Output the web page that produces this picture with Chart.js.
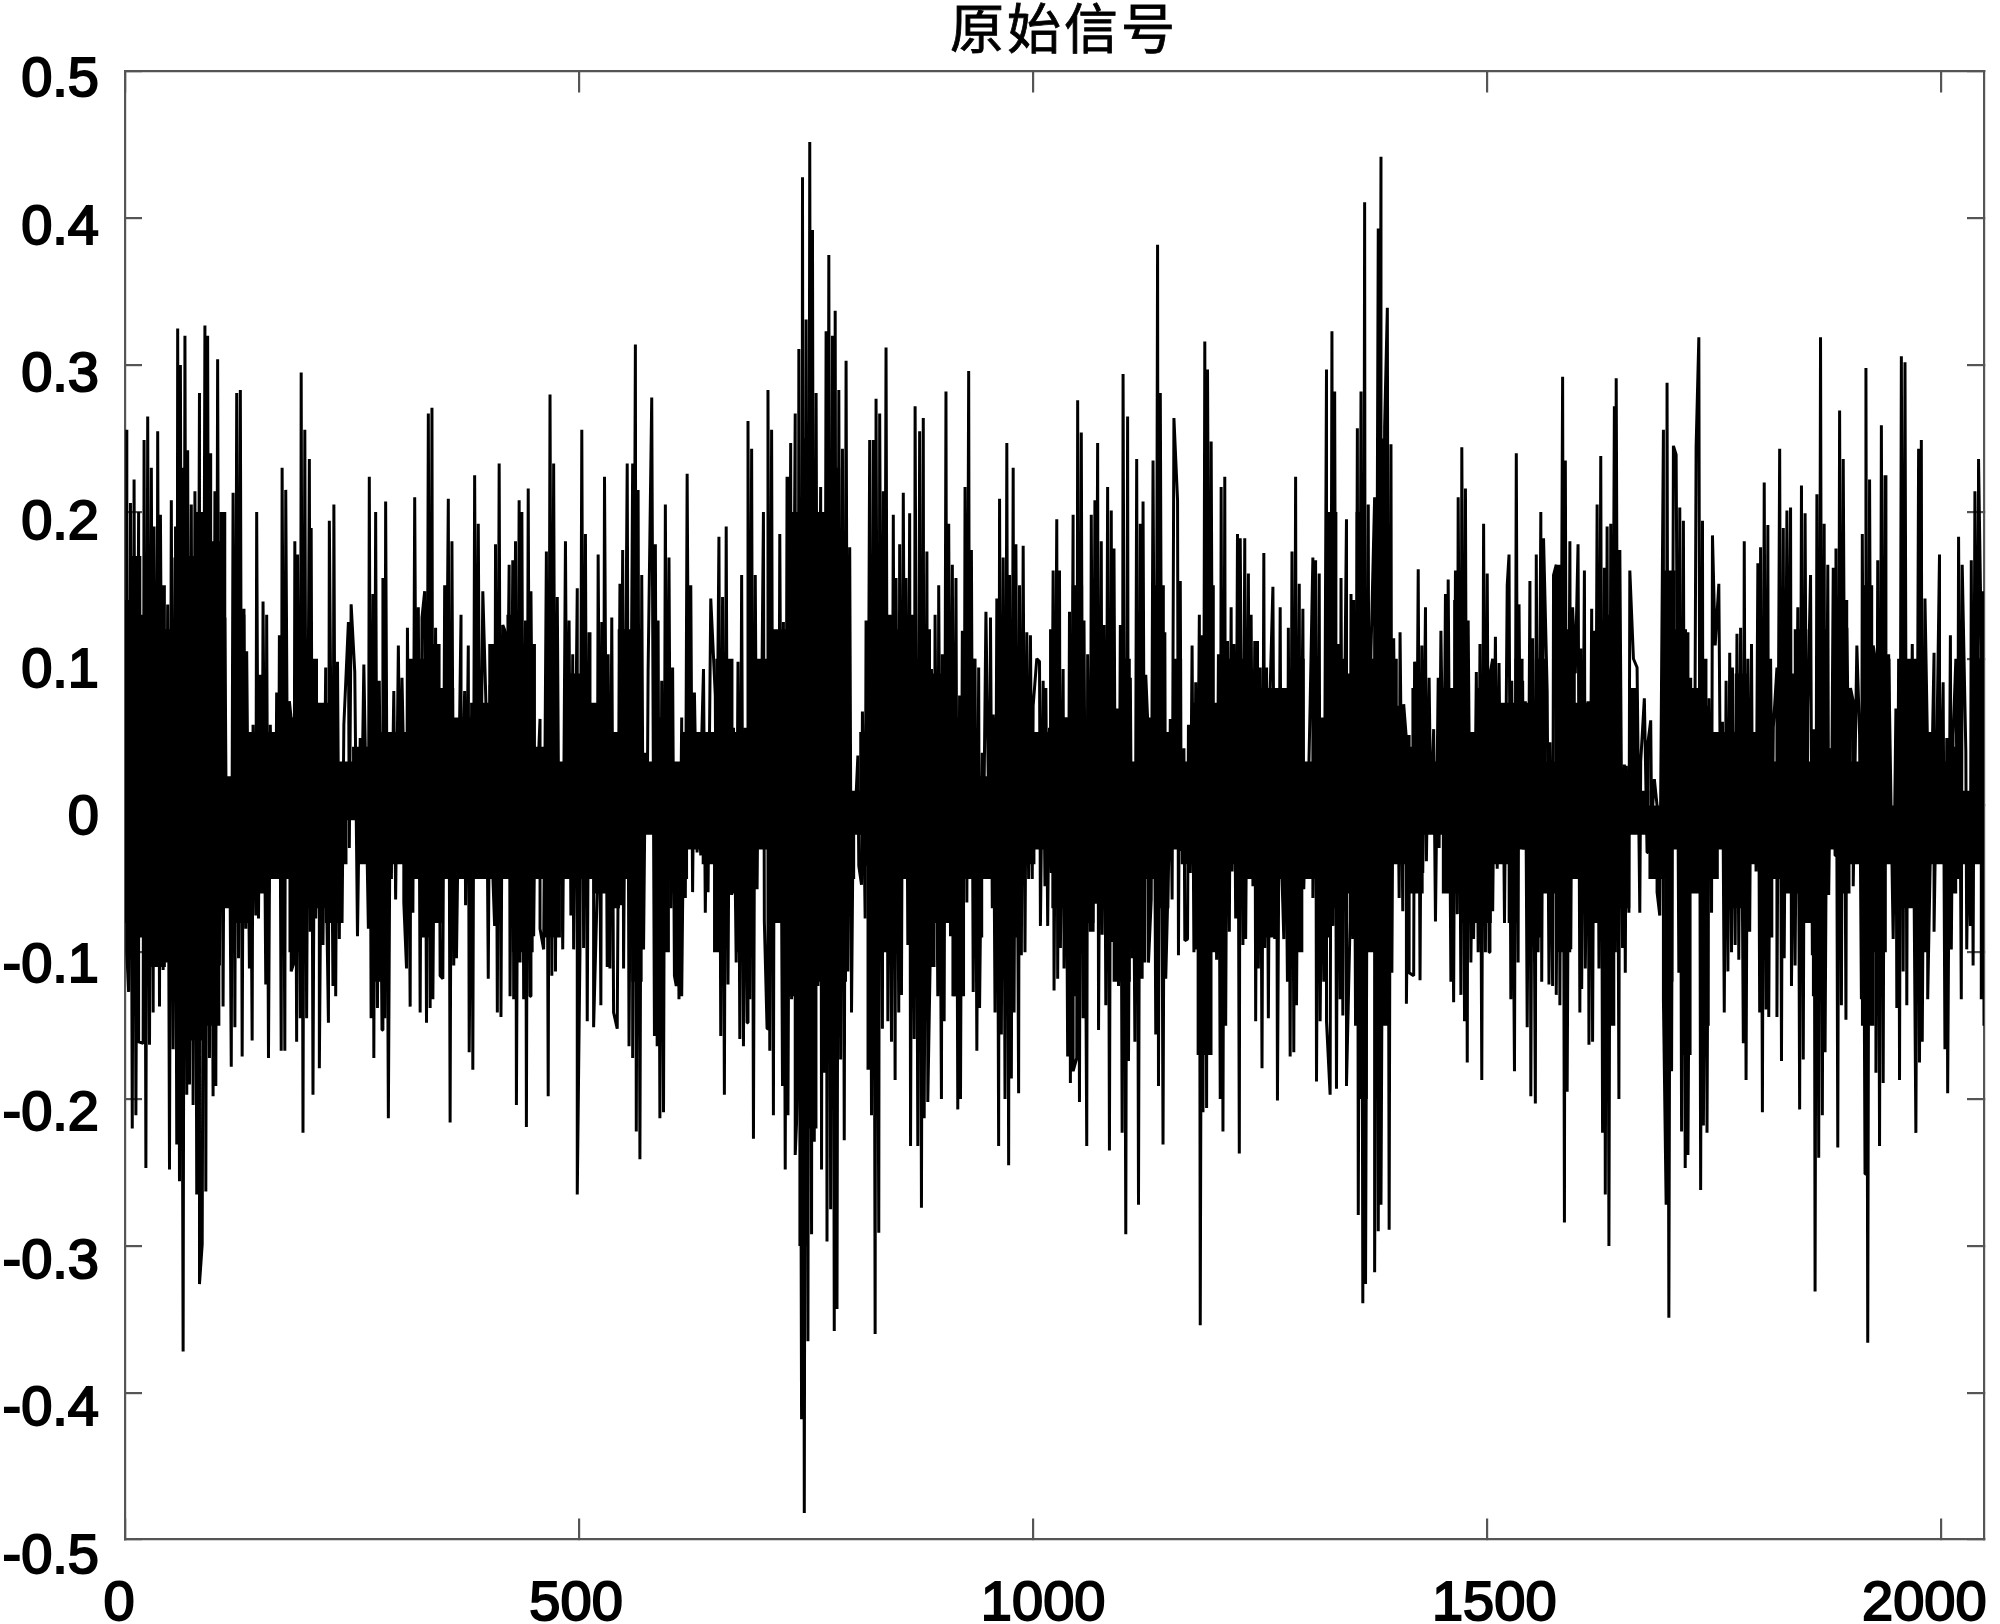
<!DOCTYPE html>
<html>
<head>
<meta charset="utf-8">
<title>原始信号</title>
<script src="https://cdn.jsdelivr.net/npm/chart.js@4"></script>
<style>
  html, body { margin: 0; background: #fff; }
  canvas { display: block; }
</style>
</head>
<body>
<canvas id="myChart" width="2000" height="1624"></canvas>
<script>
const titleText = "原始信号";
const xTickValues = [0, 500, 1000, 1500, 2000];
const yTickValues = [0.5, 0.4, 0.3, 0.2, 0.1, 0, -0.1, -0.2, -0.3, -0.4, -0.5];

// peaks: [sample index, value]
const upperPeaks = [
[2,.256],[6,.206],[10,.222],[15,.2],[21,.249],[25,.265],[29,.23],[32,.19],[36,.255],[39,.198],[43,.12],[47,.137],[51,.208],[55,.169],[58,.325],[61,.3],[66,.32],[69,.242],[73,.205],[77,.214],[82,.281],[88,.327],[91,.32],[94,.21],[99,.214],[102,.304],[106,.171],[110,.128],[115,.014],[119,.213],[123,.281],[127,.283],[131,.134],[134,.105],[138,.045],[141,.055],[145,.2],[149,.089],[152,.139],[156,.13],[160,.055],[163,.014],[167,.077],[170,.116],[173,.23],[177,.215],[181,.071],[183,.059],[187,.18],[190,.171],[194,.295],[198,.256],[203,.236],[205,.189],[209,.093],[214,.059],[217,.068],[221,.094],[225,.194],[230,.205],[234,.098],[237,.02],[241,.055],[246,.125],[249,.137],[253,.091],[259,.046],[263,.096],[269,.224],[273,.144],[276,.2],[280,.085],[284,.155],[287,.207],[292,.021],[296,.078],[301,.109],[305,.087],[307,.025],[311,.121],[315,.094],[319,.21],[323,.135],[327,.128],[330,.146],[334,.267],[338,.271],[342,.121],[346,.046],[352,.15],[356,.209],[360,.18],[365,.059],[370,.13],[374,.078],[378,.109],[382,.062],[385,.225],[389,.192],[394,.146],[398,.057],[402,.082],[408,.178],[412,.233],[416,.123],[419,.118],[423,.164],[427,.167],[430,.18],[434,.208],[437,.2],[441,.126],[444,.216],[447,.146],[452,.037],[457,.059],[464,.173],[468,.28],[472,.233],[476,.142],[480,.023],[485,.18],[489,.126],[493,.103],[498,.148],[503,.256],[507,.185],[511,.118],[516,.037],[521,.171],[525,.125],[528,.224],[532,.103],[536,.128],[545,.151],[548,.174],[553,.233],[559,.233],[562,.314],[565,.215],[569,.157],[573,.036],[576,.091],[580,.278],[584,.178],[587,.126],[591,.085],[595,.205],[599,.169],[603,.094],[608,.014],[613,.06],[616,.05],[619,.226],[623,.15],[627,.077],[631,.012],
[635,.045],[637,.093],[641,.045],[645,.141],[650,.075],[654,.183],[658,.142],[662,.19],[666,.084],[670,.053],[675,.098],[679,.157],[683,.053],[686,.262],[690,.243],[694,.157],[698,.087],[703,.2],[708,.283],[712,.256],[715,.089],[718,.053],[721,.185],[725,.125],[729,.224],[733,.247],[738,.267],[742,.311],[746,.428],[750,.331],[754,.452],[757,.392],[761,.281],[766,.217],[768,.167],[772,.323],[775,.375],[779,.32],[782,.337],[786,.283],[790,.243],[794,.303],[798,.176],[802,.007],[807,.034],[812,.064],[816,.126],[820,.249],[824,.249],[827,.277],[831,.267],[835,.214],[838,.312],[842,.121],[846,.198],[849,.155],[853,.178],[857,.213],[860,.155],[864,.199],[867,.13],[870,.272],[875,.255],[879,.264],[883,.173],[888,.093],[892,.13],[896,.15],[900,.103],[904,.282],[907,.192],[911,.164],[915,.155],[919,.075],[922,.119],[925,.217],[929,.296],[932,.174],[936,.1],[940,.094],[944,.036],[948,.132],[953,.128],[956,.062],[960,.141],[963,.209],[967,.169],[971,.247],[974,.157],[978,.23],[981,.178],[985,.15],[989,.177],[993,.118],[997,.116],[1000,.068],[1004,.1],[1007,.098],[1011,.085],[1014,.08],[1018,.053],[1022,.16],[1026,.195],[1029,.16],[1033,.093],[1036,.06],[1040,.132],[1044,.198],[1049,.276],[1053,.254],[1056,.126],[1060,.103],[1064,.198],[1068,.208],[1071,.247],[1075,.18],[1078,.123],[1082,.217],[1086,.201],[1089,.175],[1093,.066],[1096,.123],[1099,.294],[1104,.265],[1107,.087],[1110,.028],[1114,.236],[1118,.192],[1121,.207],[1124,.089],[1127,.045],[1132,.235],[1137,.382],[1140,.281],[1145,.118],[1151,.059],[1155,.264],[1159,.208],[1162,.153],[1166,.039],[1171,.055],[1175,.109],[1179,.084],[1183,.13],[1186,.116],[1189,.316],[1192,.297],[1196,.248],[1200,.062],[1204,.103],[1207,.217],[1211,.224],[1214,.112],[1218,.135],[1221,.11],[1225,.185],[1228,.182],[1233,.182],[1237,.158],[1240,.13],[1244,.112],[1247,.112],[1250,.094],[1254,.172],[1257,.094],[1261,.08],[1264,.149],[1268,.068],[1272,.135],[1277,.08],[1281,.121],[1285,.173],[1289,.224],[1293,.151],[1297,.134],[1301,.025],[1305,.069],[1308,.169],[1311,.167],[1315,.158],[1319,.048],[1323,.297],[1329,.323],[1332,.282],[1336,.11],[1339,.155],[1343,.068],
[1345,.195],[1350,.144],[1353,.14],[1357,.257],[1361,.282],[1365,.411],[1369,.205],[1372,.105],[1376,.21],[1380,.393],[1383,.442],[1387,.258],[1390,.339],[1394,.246],[1397,.114],[1401,.068],[1404,.118],[1408,.069],[1411,.045],[1414,.048],[1420,.098],[1424,.161],[1428,.109],[1432,.135],[1436,.087],[1441,.052],[1446,.087],[1449,.119],[1454,.144],[1457,.154],[1461,.032],[1465,.16],[1468,.21],[1472,.244],[1476,.216],[1479,.126],[1484,0],[1488,.091],[1492,.11],[1496,.192],[1500,.158],[1503,.089],[1506,.1],[1509,.115],[1513,.097],[1517,.066],[1522,.15],[1524,.171],[1527,.085],[1532,.24],[1535,.137],[1539,.085],[1542,.071],[1547,.153],[1550,.114],[1554,.171],[1559,.2],[1562,.182],[1566,.078],[1569,.043],[1573,.157],[1576,.164],[1579,.164],[1583,.292],[1586,.235],[1591,.18],[1594,.135],[1597,.09],[1600,.178],[1603,.107],[1607,.16],[1611,.071],[1615,.134],[1618,.119],[1621,.205],[1625,.238],[1629,.162],[1632,.19],[1636,.192],[1640,.272],[1642,.291],[1646,.174],[1651,.028],[1653,.027],[1657,.16],[1661,.1],[1665,.094],[1669,.03],[1673,.073],[1677,.043],[1680,.058],[1684,.018],[1687,0],[1694,.256],[1698,.288],[1702,.139],[1705,.245],[1708,.239],[1712,.203],[1716,.194],[1720,.118],[1724,.087],[1730,.244],[1733,.319],[1737,.194],[1741,.068],[1744,.073],[1748,.184],[1751,.109],[1755,.151],[1759,.057],[1763,.085],[1767,.104],[1770,.094],[1775,.117],[1779,.121],[1783,.18],[1787,.1],[1791,.11],[1795,.022],[1798,.165],[1801,.176],[1805,.22],[1809,.191],[1812,.1],[1815,.053],[1819,.094],[1822,.243],[1826,.189],[1830,.201],[1834,.203],[1838,.059],[1842,.135],[1846,.218],[1850,.199],[1853,.066],[1856,.157],[1860,.052],[1863,.212],[1867,.319],[1871,.192],[1875,.164],[1878,.039],[1881,.162],[1884,.175],[1888,.269],[1892,.236],[1896,.121],[1900,.08],[1903,.071],[1907,.109],[1910,.048],[1913,.185],[1917,.298],[1921,.222],[1925,.109],[1928,.096],[1930,.167],[1934,.259],[1938,.225],[1942,.103],[1950,.066],[1953,.1],[1956,.306],[1960,.302],[1963,.096],[1968,.11],[1975,.243],[1978,.249],[1982,.141],[1985,.034],[1992,.104],[1995,.036],[1998,.171],[2002,.084],[2006,.046],[2010,.116],[2013,.048],[2016,.1],[2019,.183],[2023,.164],[2027,.037],[2030,0],[2033,.167],[2037,.214],[2041,.236],[2044,.109],[2046,.146]
];

const lowerPeaks = [
[2,-.1],[4,-.127],[8,-.22],[12,-.211],[15,-.161],[20,-.162],[23,-.247],[27,-.163],[31,-.141],[35,-.1],[38,-.137],[42,-.112],[45,-.107],[49,-.248],[53,-.166],[57,-.231],[60,-.256],[64,-.372],[68,-.197],[71,-.19],[75,-.204],[79,-.265],[82,-.326],[85,-.299],[89,-.263],[93,-.172],[97,-.198],[100,-.191],[104,-.109],[108,-.137],[112,-.064],[117,-.178],[121,-.151],[125,-.104],[129,-.171],[133,-.084],[137,-.111],[140,-.16],[144,-.075],[147,-.077],[151,-.054],[155,-.122],[158,-.172],[162,-.021],[166,-.021],[169,-.048],[172,-.167],[176,-.167],[179,-.002],[183,-.113],[186,-.107],[189,-.161],[193,-.145],[196,-.223],[200,-.145],[204,-.086],[207,-.197],[210,-.077],[214,-.179],[218,-.095],[221,-.021],[224,-.148],[229,-.123],[232,-.13],[236,-.091],[239,-.08],[247,-.029],[256,-.089],[260,-.032],[268,-.084],[271,-.145],[274,-.172],[278,-.138],[283,-.153],[286,-.145],[290,-.213],[293,-.046],[298,-.064],[303,-.009],[307,-.066],[310,-.111],[314,-.137],[317,-.073],[321,-.027],[325,-.141],[332,-.148],[336,-.138],[339,-.132],[343,-.08],[347,-.116],[350,-.118],[353,-.03],[358,-.216],[362,-.109],[365,-.104],[370,-.034],[375,-.068],[379,-.168],[383,-.18],[387,-.046],[391,-.046],[400,-.118],[404,-.03],[407,-.082],[410,-.141],[414,-.144],[420,-.02],[424,-.13],[428,-.132],[431,-.204],[435,-.107],[439,-.132],[442,-.219],[446,-.13],[450,-.089],[453,-.002],[457,-.084],[461,-.098],[466,-.198],[470,-.116],[474,-.113],[478,-.054],[482,-.098],[487,-.034],[491,-.075],[494,-.098],[498,-.265],[501,-.098],[505,-.097],[509,-.147],[512,-.041],[516,-.151],[520,-.057],[524,-.136],[527,-.011],[531,-.11],[534,-.111],[538,-.141],[542,-.152],[546,-.068],[549,-.111],[555,-.164],[559,-.172],[563,-.222],[567,-.241],[571,-.098],[575,-.011],[583,-.157],[586,-.164],[589,-.213],[593,-.209],[597,-.088],[601,-.07],[605,-.116],[607,-.123],[610,-.132],
[613,-.13],[617,-.063],[621,-.007],[625,-.059],[630,-.032],[634,-.034],[639,-.073],[642,-.059],[651,-.045],[656,-.157],[660,-.197],[664,-.122],[668,-.061],[673,-.107],[677,-.159],[681,-.164],[685,-.148],[688,-.132],[692,-.227],[696,-.057],[700,-.007],[704,-.079],[707,-.152],[710,-.167],[714,-.211],[717,-.039],[720,-.015],[724,-.191],[727,-.248],[730,-.211],[734,-.132],[738,-.238],[741,-.193],[745,-.418],[748,-.482],[752,-.365],[756,-.292],[759,-.229],[763,-.123],[767,-.248],[770,-.182],[773,-.297],[777,-.275],[781,-.358],[784,-.343],[788,-.173],[792,-.228],[796,-.113],[800,-.141],[804,-.007],[808,-.041],[811,-.054],[815,-.077],[818,-.041],[822,-.211],[826,-.36],[830,-.291],[834,-.152],[836,-.086],[840,-.147],[844,-.161],[848,-.187],[852,-.141],[855,-.129],[859,-.05],[862,-.095],[865,-.232],[869,-.159],[873,-.232],[877,-.274],[880,-.213],[884,-.202],[887,-.091],[891,-.079],[895,-.13],[899,-.2],[902,-.147],[905,-.073],[909,-.089],[913,-.13],[917,-.207],[920,-.2],[924,-.043],[927,-.066],[930,-.041],[934,-.127],[938,-.167],[941,-.138],[945,-.048],[952,-.048],[955,-.07],[958,-.141],[962,-.232],[965,-.156],[969,-.2],[973,-.245],[976,-.186],[979,-.141],[984,-.196],[987,-.102],[991,-.1],[995,-.05],[999,-.05],[1008,-.082],[1013,-.055],[1016,-.082],[1020,-.046],[1023,-.126],[1027,-.118],[1030,-.097],[1034,-.111],[1038,-.171],[1041,-.189],[1044,-.181],[1048,-.172],[1051,-.202],[1055,-.145],[1059,-.232],[1063,-.086],[1066,-.086],[1069,-.067],[1072,-.153],[1076,-.088],[1080,-.136],[1084,-.235],[1087,-.093],[1091,-.1],[1094,-.123],[1098,-.223],[1102,-.292],[1105,-.174],[1109,-.104],[1112,-.161],[1116,-.272],[1120,-.118],[1123,-.107],[1127,-.107],[1130,-.064],[1135,-.156],[1138,-.191],[1143,-.231],[1146,-.118],[1150,-.018],[1153,-.064],[1160,-.102],[1163,-.031],[1167,-.092],[1170,-.091],[1173,-.046],[1177,-.1],[1180,-.098],[1184,-.354],[1187,-.209],[1191,-.206],[1195,-.129],[1198,-.045],[1202,-.105],[1206,-.2],[1209,-.222],[1212,-.15],[1216,-.086],[1219,-.045],[1223,-.077],[1227,-.237],[1231,-.095],[1234,-.091],[1238,-.031],[1242,-.055],[1245,-.147],[1248,-.111],[1252,-.179],[1255,-.097],[1259,-.145],[1266,-.091],[1269,-.201],[1273,-.027],[1276,-.091],[1280,-.12],[1283,-.171],[1287,-.168],[1290,-.136],[1294,-.084],[1298,-.057],[1301,-.05],[1308,-.063],[1312,-.188],[1316,-.147],[1320,-.12],[1323,-.147],[1327,-.197],[1330,-.082],[1334,-.193],[1338,-.132],[1341,-.143],[1345,-.191],[1349,-.079],
[1352,-.091],[1355,-.15],[1358,-.279],[1363,-.339],[1366,-.326],[1370,-.083],[1376,-.318],[1380,-.29],[1383,-.272],[1392,-.289],[1395,-.114],[1399,-.032],[1403,-.063],[1407,-.072],[1411,-.135],[1414,-.114],[1419,-.116],[1422,-.032],[1426,-.119],[1429,-.046],[1433,-.038],[1438,-.016],[1443,-.079],[1447,-.029],[1452,-.021],[1456,-.029],[1460,-.12],[1463,-.134],[1467,-.074],[1471,-.129],[1475,-.147],[1478,-.175],[1482,-.107],[1485,-.091],[1490,-.1],[1494,-.187],[1498,-.1],[1502,-.1],[1506,-.072],[1511,-.043],[1515,-.029],[1519,-.08],[1526,-.132],[1530,-.181],[1534,-.107],[1537,-.016],[1540,-.03],[1544,-.151],[1548,-.198],[1553,-.203],[1556,-.1],[1560,-.12],[1568,-.122],[1572,-.123],[1576,-.129],[1580,-.136],[1585,-.284],[1588,-.195],[1592,-.098],[1602,-.141],[1604,-.125],[1608,-.111],[1612,-.163],[1616,-.161],[1619,-.064],[1623,-.111],[1627,-.223],[1630,-.265],[1634,-.3],[1637,-.139],[1641,-.1],[1645,-.2],[1649,-.097],[1652,-.114],[1656,-.073],[1668,-.073],[1676,-.032],[1681,-.013],[1687,-.059],[1690,-.075],[1694,-.132],[1697,-.272],[1700,-.349],[1703,-.181],[1711,-.114],[1714,-.222],[1718,-.247],[1721,-.238],[1725,-.046],[1728,-.046],[1735,-.262],[1738,-.218],[1742,-.223],[1747,-.073],[1757,-.013],[1761,-.141],[1765,-.113],[1769,-.1],[1773,-.095],[1777,-.105],[1782,-.162],[1785,-.187],[1789,-.086],[1792,-.014],[1796,-.045],[1800,-.141],[1803,-.209],[1807,-.139],[1810,-.144],[1814,-.029],[1819,-.144],[1824,-.174],[1827,-.104],[1831,-.032],[1835,-.123],[1839,-.109],[1844,-.207],[1848,-.173],[1852,-.063],[1858,-.102],[1861,-.331],[1865,-.24],[1869,-.211],[1872,-.168],[1876,-.061],[1879,-.021],[1883,-.034],[1886,-.233],[1890,-.136],[1895,-.146],[1899,-.027],[1903,-.055],[1912,-.132],[1916,-.251],[1919,-.366],[1923,-.093],[1928,-.182],[1932,-.232],[1936,-.189],[1939,-.023],[1947,-.091],[1951,-.138],[1954,-.187],[1958,-.113],[1962,-.136],[1966,-.036],[1972,-.223],[1976,-.175],[1979,-.161],[1985,-.132],[1992,-.086],[1998,-.032],[2004,-.166],[2007,-.196],[2011,-.098],[2018,-.05],[2022,-.132],[2028,-.098],[2032,-.082],[2035,-.109],[2040,-.027],[2044,-.132],[2047,-.15]
];

// edge of the solid black core
const coreUpper = [
[0,.14],[12,.17],[24,.13],[40,.15],[50,.12],[58,.19],[66,.23],[74,.17],[82,.2],[92,.24],[100,.18],[108,.2],[115,.02],[125,.13],[140,.05],[160,.05],[175,.06],[200,.1],[225,.07],[240,.03],[260,.04],[280,.05],[300,.05],[320,.1],[340,.11],[355,.08],[370,.06],[390,.07],[410,.11],[430,.13],[445,.11],[460,.04],[470,.13],[480,.03],[500,.09],[520,.07],[535,.05],[550,.12],[565,.12],[575,.03],[590,.06],[610,.03],[625,.05],
[640,.05],[660,.1],[680,.05],[700,.1],[725,.12],[740,.2],[750,.25],[765,.2],[780,.23],[795,.14],[802,.01],[815,.05],[825,.13],[840,.13],[855,.12],[870,.1],[880,.12],[895,.09],[905,.1],[920,.06],[930,.1],[943,.02],[960,.06],[975,.1],[990,.05],[1010,.05],[1025,.12],[1035,.06],[1050,.15],[1060,.06],[1075,.1],[1090,.06],[1103,.1],[1112,.03],[1125,.06],[1140,.15],[1150,.05],[1160,.1],[1168,.03],[1180,.07],[1195,.15],[1205,.07],[1225,.1],[1245,.08],[1265,.08],[1280,.08],[1295,.1],[1303,.03],[1315,.06],[1330,.2],[1340,.1],[1350,.09],
[1360,.2],[1370,.1],[1385,.25],[1395,.1],[1408,.04],[1425,.08],[1440,.03],[1455,.08],[1470,.14],[1480,.05],[1495,.08],[1510,.07],[1525,.07],[1535,.1],[1545,.07],[1560,.1],[1570,.03],[1590,.12],[1605,.07],[1625,.1],[1640,.13],[1650,.02],[1660,.08],[1672,.01],[1685,0],[1700,.16],[1715,.12],[1725,.08],[1740,.1],[1745,.05],[1755,.05],[1765,.05],[1780,.09],[1795,.05],[1805,.12],[1815,.03],[1830,.09],[1845,.12],[1860,.03],[1870,.12],[1880,.03],[1890,.14],[1905,.03],[1920,.15],[1930,.08],[1940,.1],[1948,0],[1960,.1],[1978,.1],[1990,.05],[2000,.03],[2015,.04],[2030,.01],[2040,.1],[2047,.1]
];

const coreLower = [
[0,-.08],[15,-.09],[30,-.11],[60,-.1],[75,-.16],[100,-.15],[110,-.07],[130,-.08],[150,-.06],[170,-.05],[190,-.1],[210,-.07],[230,-.08],[240,-.04],[250,-.01],[265,-.04],[275,-.12],[290,-.05],[300,-.04],[320,-.05],[330,-.09],[345,-.08],[355,-.05],[370,-.05],[385,-.05],[400,-.05],[420,-.05],[432,-.1],[445,-.1],[455,-.05],[470,-.09],[490,-.05],[510,-.05],[520,-.06],[540,-.07],[550,-.05],[565,-.12],[575,-.02],[590,-.1],[610,-.05],[630,-.03],
[640,-.04],[655,-.1],[665,-.06],[680,-.1],[700,-.03],[715,-.08],[735,-.13],[748,-.3],[755,-.22],[770,-.12],[780,-.2],[790,-.12],[800,-.05],[808,-.02],[825,-.18],[835,-.1],[850,-.08],[858,-.05],[870,-.13],[885,-.11],[900,-.08],[920,-.13],[930,-.05],[940,-.09],[950,-.05],[975,-.09],[995,-.04],[1010,-.03],[1030,-.07],[1045,-.13],[1060,-.08],[1075,-.06],[1100,-.12],[1115,-.07],[1130,-.05],[1145,-.07],[1155,-.03],[1170,-.04],[1190,-.17],[1205,-.1],[1220,-.04],[1240,-.05],[1260,-.09],[1275,-.05],[1290,-.1],[1305,-.05],[1320,-.09],[1335,-.07],[1350,-.06],
[1365,-.2],[1372,-.1],[1385,-.15],[1400,-.04],[1420,-.06],[1440,-.02],[1460,-.06],[1478,-.08],[1495,-.08],[1515,-.04],[1530,-.08],[1540,-.03],[1555,-.09],[1565,-.06],[1585,-.1],[1600,-.05],[1620,-.08],[1632,-.15],[1650,-.07],[1665,-.02],[1690,-.05],[1700,-.12],[1710,-.03],[1720,-.17],[1730,-.06],[1740,-.15],[1750,-.05],[1760,-.03],[1780,-.07],[1795,-.04],[1810,-.09],[1820,-.05],[1835,-.06],[1850,-.08],[1865,-.13],[1880,-.03],[1895,-.06],[1905,-.04],[1918,-.15],[1935,-.1],[1945,-.04],[1965,-.07],[1980,-.1],[1995,-.04],[2010,-.06],[2025,-.04],[2040,-.04],[2047,-.1]
];

const toPoints = (list) => list.map((p) => ({ x: p[0], y: p[1] }));

const signal = toPoints(upperPeaks.concat(lowerPeaks)).sort((a, b) => a.x - b.x);

const labelFont = "56px 'Liberation Sans'";
const xLabelShift = [-6, -3, 10, 7, -17];

const drawLabel = (c, text, x, y) => {
  c.fillText(text, x, y);
  c.strokeText(text, x, y);
};

// matlab style labels sit a bit off their ticks, so they are drawn here
const handLabels = {
  id: "handLabels",
  afterDraw(chart) {
    const c = chart.ctx;
    c.save();
    c.fillStyle = "#000";
    c.strokeStyle = "#000";
    c.lineWidth = 2;
    c.font = labelFont;
    c.textBaseline = "middle";
    c.textAlign = "center";
    xTickValues.forEach((v, i) => {
      drawLabel(c, String(v), chart.scales.x.getPixelForValue(v) + xLabelShift[i], 1605);
    });
    c.textAlign = "right";
    yTickValues.forEach((v) => {
      const py = chart.scales.y.getPixelForValue(v) + 9 + (0.5 - v) * 9;
      drawLabel(c, String(v), 99, py);
    });
    c.textAlign = "left";
    c.font = "54px 'Noto Sans CJK SC'";
    c.letterSpacing = "3px";
    c.lineWidth = 0.8;
    drawLabel(c, titleText, 950, 28);
    c.restore();
  },
};

const onlyTicks = (values) => (scale) => {
  scale.ticks = values.map((v) => ({ value: v }));
};

const axisBase = (values, inward) => ({
  type: "linear",
  afterBuildTicks: onlyTicks(values),
  afterFit: (scale) => {
    scale.width = scale.isHorizontal() ? scale.width : 0;
    scale.height = scale.isHorizontal() ? 0 : scale.height;
  },
  border: { display: true, color: "#555", width: 2.2 },
  grid: {
    drawOnChartArea: false,
    drawTicks: true,
    color: "#555",
    lineWidth: 2.2,
    tickLength: inward,
  },
  ticks: { display: false },
});

const ctx = document.getElementById("myChart");

const myChart = new Chart(ctx, {
  type: "line",
  data: {
    datasets: [
      {
        label: titleText,
        data: signal,
        xAxisID: "x",
        yAxisID: "y",
        borderColor: "#000",
        borderWidth: 3,
        borderJoinStyle: "bevel",
        pointRadius: 0,
        tension: 0,
      },
      {
        label: "core upper",
        data: toPoints(coreUpper),
        xAxisID: "x",
        yAxisID: "y",
        borderWidth: 0,
        backgroundColor: "#000",
        pointRadius: 0,
        stepped: "middle",
        fill: "+1",
      },
      {
        label: "core lower",
        data: toPoints(coreLower),
        xAxisID: "x",
        yAxisID: "y",
        borderWidth: 0,
        pointRadius: 0,
        stepped: "middle",
      },
    ],
  },
  options: {
    responsive: false,
    animation: false,
    layout: { padding: { left: 125, top: 71.5, right: 16, bottom: 84.5 } },
    plugins: { legend: { display: false }, tooltip: { enabled: false } },
    scales: {
      x: { ...axisBase(xTickValues, -21), position: "bottom", min: 0, max: 2047 },
      x2: { ...axisBase(xTickValues, -21), axis: "x", position: "top", min: 0, max: 2047 },
      y: { ...axisBase(yTickValues, -17), position: "left", min: -0.5, max: 0.5 },
      y2: { ...axisBase(yTickValues, -17), axis: "y", position: "right", min: -0.5, max: 0.5 },
    },
  },
  plugins: [handLabels],
});
</script>
</body>
</html>
